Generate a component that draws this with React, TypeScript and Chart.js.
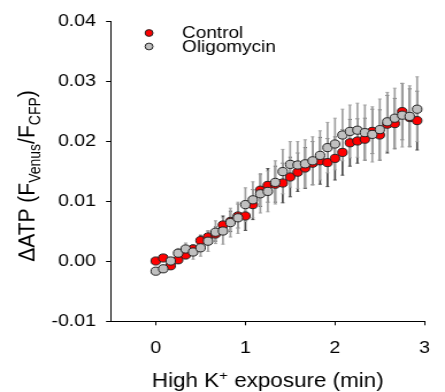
import React, { useEffect, useRef } from "react";
import { Chart, registerables } from "chart.js";

Chart.register(...registerables);

// ---- data ----
const timeMin: number[] = [
  0, 1 / 12, 2 / 12, 3 / 12, 4 / 12, 5 / 12, 6 / 12, 7 / 12, 8 / 12, 9 / 12, 10 / 12, 11 / 12,
  1, 13 / 12, 14 / 12, 15 / 12, 16 / 12, 17 / 12, 18 / 12, 19 / 12, 20 / 12, 21 / 12, 22 / 12, 23 / 12,
  2, 25 / 12, 26 / 12, 27 / 12, 28 / 12, 29 / 12, 30 / 12, 31 / 12, 32 / 12, 33 / 12, 34 / 12, 35 / 12,
];

const controlMean: number[] = [
  0.0, 0.0005, -0.0008, 0.0002, 0.001, 0.002, 0.0034, 0.004, 0.0045, 0.006, 0.0066, 0.0075,
  0.0075, 0.0094, 0.0118, 0.0126, 0.0128, 0.013, 0.014, 0.0148, 0.0155, 0.0163, 0.0167, 0.0164,
  0.0171, 0.0181, 0.0197, 0.02, 0.0203, 0.0216, 0.021, 0.0228, 0.0229, 0.0249, 0.0239, 0.0234,
];
const controlErr: number[] = [
  0.0003, 0.0004, 0.0005, 0.0005, 0.0006, 0.0007, 0.0009, 0.001, 0.0012, 0.0015, 0.0017, 0.002,
  0.0024, 0.0025, 0.0027, 0.0028, 0.003, 0.0033, 0.0033, 0.0032, 0.0034, 0.0036, 0.0039, 0.004,
  0.0036, 0.0038, 0.0039, 0.0037, 0.0035, 0.0037, 0.0042, 0.0048, 0.0042, 0.0047, 0.0048, 0.0049,
];

const oligoMean: number[] = [
  -0.0017, -0.0013, 0.0, 0.0013, 0.002, 0.0015, 0.0022, 0.0033, 0.0048, 0.005, 0.0064, 0.0072,
  0.0094, 0.0102, 0.0112, 0.0116, 0.0131, 0.0149, 0.0161, 0.016, 0.0162, 0.0167, 0.0176, 0.0189,
  0.0195, 0.021, 0.0216, 0.0218, 0.0214, 0.0211, 0.0219, 0.0232, 0.0238, 0.0243, 0.0241, 0.0253,
];
const oligoErr: number[] = [
  0.0004, 0.0005, 0.0006, 0.0008, 0.001, 0.0012, 0.0014, 0.0017, 0.0019, 0.0022, 0.0024, 0.0026,
  0.0028, 0.003, 0.0032, 0.0034, 0.0036, 0.0037, 0.0038, 0.0039, 0.004, 0.004, 0.0041, 0.0042,
  0.0043, 0.0043, 0.0044, 0.0045, 0.0046, 0.0046, 0.0051, 0.0049, 0.005, 0.0053, 0.0051, 0.0054,
];

const xTicks: number[] = [0, 1, 2, 3];
const seriesNames: string[] = ["Control", "Oligomycin"];

const FONT = "'Liberation Sans', Arial, Helvetica, sans-serif";
const STRETCH = 1.15;
const W = 445;
const H = 392;
const IW = Math.round(W / STRETCH);

const series = [
  { name: seriesNames[0], mean: controlMean, err: controlErr, fill: "#ff0000", bar: "#4a4a4a" },
  { name: seriesNames[1], mean: oligoMean, err: oligoErr, fill: "#c0c0c0", bar: "#a0a0a0" },
];

const overlay = {
  id: "overlay",
  beforeDatasetsDraw(chart: any) {
    const { ctx, scales } = chart;
    const xs = scales.x;
    const ys = scales.y;
    ctx.save();
    series.forEach((s) => {
      ctx.strokeStyle = s.bar;
      s.mean.forEach((m, i) => {
        const x = xs.getPixelForValue(timeMin[i]);
        const y1 = ys.getPixelForValue(m + s.err[i]);
        const y2 = ys.getPixelForValue(m - s.err[i]);
        ctx.lineWidth = 1.7;
        ctx.beginPath();
        ctx.moveTo(x, y1);
        ctx.lineTo(x, y2);
        ctx.stroke();
        ctx.lineWidth = 1;
        ctx.beginPath();
        ctx.moveTo(x - 1.5, y1);
        ctx.lineTo(x + 1.5, y1);
        ctx.moveTo(x - 1.5, y2);
        ctx.lineTo(x + 1.5, y2);
        ctx.stroke();
      });
    });
    ctx.restore();
  },
  afterDraw(chart: any) {
    const { ctx, chartArea } = chart;
    ctx.save();
    ctx.fillStyle = "#000";

    // legend
    const legY = [33, 46.5];
    series.forEach((s, i) => {
      ctx.beginPath();
      ctx.arc(129.6, legY[i], 3.4, 0, Math.PI * 2);
      ctx.fillStyle = s.fill;
      ctx.fill();
      ctx.lineWidth = 1;
      ctx.strokeStyle = "#222";
      ctx.stroke();
      ctx.fillStyle = "#000";
      ctx.font = `16.5px ${FONT}`;
      ctx.textAlign = "left";
      ctx.textBaseline = "middle";
      ctx.fillText(s.name, 158.3, legY[i] + 0.5);
    });

    // x title
    const main = `19.5px ${FONT}`;
    const sup = `13px ${FONT}`;
    const segsX = [
      { t: "High K", f: main, dy: 0 },
      { t: "+", f: sup, dy: -7 },
      { t: " exposure (min)", f: main, dy: 0 },
    ];
    let total = 0;
    segsX.forEach((s) => {
      ctx.font = s.f;
      total += ctx.measureText(s.t).width;
    });
    let cx = (chartArea.left + chartArea.right) / 2 - total / 2;
    ctx.textBaseline = "alphabetic";
    ctx.textAlign = "left";
    segsX.forEach((s) => {
      ctx.font = s.f;
      ctx.fillText(s.t, cx, 386.7 + s.dy);
      cx += ctx.measureText(s.t).width;
    });

    // y title
    const ym = `21px ${FONT}`;
    const ysub = `14px ${FONT}`;
    const segsY = [
      { t: "\u0394ATP (F", f: ym, dy: 0 },
      { t: "Venus", f: ysub, dy: 5 },
      { t: "/F", f: ym, dy: 0 },
      { t: "CFP", f: ysub, dy: 5 },
      { t: ")", f: ym, dy: 0 },
    ];
    let totY = 0;
    segsY.forEach((s) => {
      ctx.font = s.f;
      totY += ctx.measureText(s.t).width;
    });
    ctx.translate(30.4, 176);
    ctx.rotate(-Math.PI / 2);
    let px = -totY / 2;
    segsY.forEach((s) => {
      ctx.font = s.f;
      ctx.fillText(s.t, px, s.dy);
      px += ctx.measureText(s.t).width;
    });
    ctx.restore();
  },
};

export default function App() {
  const ref = useRef<HTMLCanvasElement | null>(null);
  useEffect(() => {
    if (!ref.current) return;
    const chart = new Chart(ref.current, {
      type: "scatter",
      data: {
        datasets: series.map((s, i) => ({
          label: s.name,
          data: s.mean.map((m, j) => ({ x: timeMin[j], y: m })),
          backgroundColor: s.fill,
          borderColor: "#222222",
          borderWidth: 1,
          pointRadius: 4.1,
          showLine: false,
          order: i === 0 ? 1 : 0,
        })),
      },
      options: {
        responsive: false,
        devicePixelRatio: 1,
        animation: false,
        events: [],
        layout: { padding: { top: 21, right: IW - 381.7, bottom: 0, left: 0 } },
        plugins: { legend: { display: false }, tooltip: { enabled: false } },
        scales: {
          x: {
            type: "linear",
            min: -0.5,
            max: 3,
            afterBuildTicks: (s: any) => {
              s.ticks = xTicks.map((v) => ({ value: v }));
            },
            afterFit: (s: any) => {
              s.height = H - 321;
            },
            grid: { drawOnChartArea: false, drawTicks: true, tickLength: 4.3, color: "#000", lineWidth: 1 },
            border: { display: true, color: "#000", width: 1 },
            ticks: {
              color: "#000",
              font: { family: FONT, size: 17 },
              padding: 13,
              maxRotation: 0,
              autoSkip: false,
              callback: (v: any) => String(v),
            },
          },
          y: {
            type: "linear",
            min: -0.01,
            max: 0.04,
            afterFit: (s: any) => {
              s.width = 96.5;
            },
            grid: { drawOnChartArea: false, drawTicks: true, tickLength: 4.3, color: "#000", lineWidth: 1 },
            border: { display: true, color: "#000", width: 1 },
            ticks: {
              stepSize: 0.01,
              color: "#000",
              font: { family: FONT, size: 17 },
              padding: 8.7,
              callback: (v: any) => Number(v).toFixed(2),
            },
          },
        },
      },
      plugins: [overlay],
    });
    return () => chart.destroy();
  }, []);
  return (
    <div style={{ position: "absolute", left: 0, top: 0, width: W, height: H, background: "#fff" }}>
      <canvas ref={ref} width={IW} height={H} style={{ width: `${W}px`, height: `${H}px`, display: "block" }} />
    </div>
  );
}
